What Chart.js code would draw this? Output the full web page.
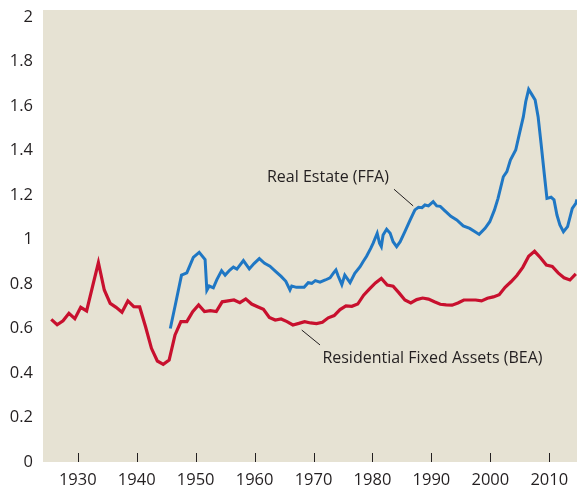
<!DOCTYPE html>
<html>
<head>
<meta charset="utf-8">
<script src="https://cdn.jsdelivr.net/npm/chart.js@4/dist/chart.umd.min.js"></script>
<style>
  html, body { margin: 0; padding: 0; background: #fff; }
  canvas { display: block; }
</style>
</head>
<body>
<canvas id="chart" width="577" height="490"></canvas>
<script>
// Residential Fixed Assets (BEA), annual
const beaYears = [
  1925, 1926, 1927, 1928, 1929, 1930, 1931, 1932, 1933, 1934,
  1935, 1936, 1937, 1938, 1939, 1940, 1941, 1942, 1943, 1944,
  1945, 1946, 1947, 1948, 1949, 1950, 1951, 1952, 1953, 1954,
  1955, 1956, 1957, 1958, 1959, 1960, 1961, 1962, 1963, 1964,
  1965, 1966, 1967, 1968, 1969, 1970, 1971, 1972, 1973, 1974,
  1975, 1976, 1977, 1978, 1979, 1980, 1981, 1982, 1983, 1984,
  1985, 1986, 1987, 1988, 1989, 1990, 1991, 1992, 1993, 1994,
  1995, 1996, 1997, 1998, 1999, 2000, 2001, 2002, 2003, 2004,
  2005, 2006, 2007, 2008, 2009, 2010, 2011, 2012, 2013, 2014
];
const beaValues = [
  0.641, 0.617, 0.635, 0.668, 0.644, 0.695, 0.679, 0.788, 0.896, 0.773,
  0.713, 0.695, 0.673, 0.724, 0.698, 0.697, 0.608, 0.511, 0.454, 0.439,
  0.458, 0.571, 0.631, 0.631, 0.676, 0.706, 0.676, 0.680, 0.676, 0.720,
  0.724, 0.728, 0.716, 0.733, 0.710, 0.698, 0.686, 0.650, 0.638, 0.643,
  0.631, 0.616, 0.623, 0.631, 0.625, 0.622, 0.628, 0.648, 0.658, 0.685,
  0.702, 0.700, 0.710, 0.750, 0.778, 0.805, 0.825, 0.795, 0.790, 0.760,
  0.728, 0.715, 0.730, 0.737, 0.732, 0.720, 0.709, 0.706, 0.705, 0.715,
  0.728, 0.728, 0.728, 0.724, 0.736, 0.742, 0.752, 0.785, 0.810, 0.838,
  0.875, 0.925, 0.947, 0.918, 0.885, 0.879, 0.850, 0.828, 0.818, 0.845
];

// Real Estate (FFA)
const ffaDates = [
  1945.7, 1946.5, 1947.6, 1948.5, 1949.6, 1950.6, 1951.6, 1951.9, 1952.3, 1953.0,
  1953.6, 1954.4, 1955.0, 1955.8, 1956.4, 1957.0, 1958.1, 1959.1, 1959.9, 1960.8,
  1961.7, 1962.6, 1963.6, 1964.5, 1965.3, 1966.0, 1966.3, 1967.1, 1968.4, 1969.1,
  1969.7, 1970.3, 1971.1, 1972.0, 1972.8, 1973.4, 1973.8, 1974.2, 1974.8, 1975.3,
  1976.2, 1977.0, 1977.9, 1978.4, 1979.0, 1979.7, 1980.1, 1980.8, 1981.2, 1981.5,
  1981.8, 1982.4, 1983.0, 1983.5, 1984.1, 1984.7, 1985.5, 1986.4, 1987.2, 1987.8,
  1988.4, 1988.9, 1989.5, 1990.3, 1990.9, 1991.5, 1992.3, 1993.3, 1994.3, 1995.4,
  1996.5, 1997.4, 1998.1, 1999.1, 1999.9, 2000.7, 2001.3, 2002.2, 2002.8, 2003.4,
  2004.3, 2005.0, 2005.6, 2006.0, 2006.5, 2007.1, 2007.6, 2008.1, 2008.6, 2009.2,
  2009.6, 2010.3, 2010.8, 2011.3, 2011.8, 2012.4, 2013.1, 2013.9, 2014.5, 2014.7
];
const ffaValues = [
  0.600, 0.700, 0.840, 0.850, 0.920, 0.942, 0.910, 0.772, 0.791, 0.783,
  0.820, 0.860, 0.840, 0.863, 0.876, 0.867, 0.905, 0.868, 0.892, 0.914,
  0.893, 0.880, 0.856, 0.834, 0.812, 0.773, 0.791, 0.785, 0.785, 0.806,
  0.803, 0.815, 0.808, 0.818, 0.828, 0.850, 0.863, 0.835, 0.797, 0.840,
  0.806, 0.848, 0.878, 0.900, 0.925, 0.960, 0.983, 1.028, 0.983, 0.968,
  1.020, 1.046, 1.028, 0.990, 0.968, 0.990, 1.035, 1.088, 1.133, 1.145,
  1.143, 1.155, 1.151, 1.170, 1.151, 1.149, 1.129, 1.104, 1.088, 1.061,
  1.050, 1.035, 1.023, 1.050, 1.080, 1.133, 1.185, 1.282, 1.305, 1.357,
  1.402, 1.484, 1.552, 1.619, 1.675, 1.649, 1.627, 1.552, 1.432, 1.282,
  1.185, 1.190, 1.178, 1.110, 1.065, 1.035, 1.058, 1.140, 1.163, 1.180
];

const xTicks = [1930, 1940, 1950, 1960, 1970, 1980, 1990, 2000, 2010];
const yTicks = [0, 0.2, 0.4, 0.6, 0.8, 1, 1.2, 1.4, 1.6, 1.8, 2];

// label text, anchor (year, value), leader line from/to (year, value)
const notes = [
  { text: 'Real Estate (FFA)', at: [1962.1, 1.281], from: [1983.65, 1.226], to: [1986.9, 1.151] },
  { text: 'Residential Fixed Assets (BEA)', at: [1971.5, 0.466], from: [1971.1, 0.526], to: [1968.0, 0.593] }
];

const INK = '#231f20';
const FONT = '"Open Sans", sans-serif';

const panel = {
  id: 'panel',
  beforeDraw(chart) {
    const a = chart.chartArea;
    const ctx = chart.ctx;
    ctx.save();
    ctx.fillStyle = '#e6e2d3';
    ctx.fillRect(a.left, a.top, a.right - a.left, a.bottom - a.top);
    ctx.restore();
  }
};

const innerTicks = {
  id: 'innerTicks',
  afterDatasetsDraw(chart) {
    const x = chart.scales.x;
    const bottom = chart.chartArea.bottom;
    const ctx = chart.ctx;
    ctx.save();
    ctx.strokeStyle = INK;
    ctx.lineWidth = 1;
    xTicks.forEach(t => {
      const px = Math.round(x.getPixelForValue(t)) + 0.5;
      ctx.beginPath();
      ctx.moveTo(px, bottom);
      ctx.lineTo(px, bottom - 9);
      ctx.stroke();
    });
    ctx.restore();
  }
};

const labels = {
  id: 'labels',
  afterDatasetsDraw(chart) {
    const { x, y } = chart.scales;
    const ctx = chart.ctx;
    ctx.save();
    ctx.fillStyle = INK;
    ctx.strokeStyle = INK;
    ctx.lineWidth = 1;
    ctx.font = '16px ' + FONT;
    ctx.textBaseline = 'middle';
    ctx.textAlign = 'left';
    notes.forEach(n => {
      ctx.fillText(n.text, x.getPixelForValue(n.at[0]), y.getPixelForValue(n.at[1]));
      ctx.beginPath();
      ctx.moveTo(x.getPixelForValue(n.from[0]), y.getPixelForValue(n.from[1]));
      ctx.lineTo(x.getPixelForValue(n.to[0]), y.getPixelForValue(n.to[1]));
      ctx.stroke();
    });
    ctx.restore();
  }
};

new Chart(document.getElementById('chart'), {
  type: 'line',
  data: {
    datasets: [
      {
        label: 'Residential Fixed Assets (BEA)',
        // annual values sit at mid-year
        data: beaYears.map((yr, i) => ({ x: yr + 0.5, y: beaValues[i] })),
        borderColor: '#c8102e',
        borderWidth: 3.2,
        pointRadius: 0,
        tension: 0,
        fill: false
      },
      {
        label: 'Real Estate (FFA)',
        data: ffaDates.map((d, i) => ({ x: d, y: ffaValues[i] })),
        borderColor: '#1f77c4',
        borderWidth: 3,
        pointRadius: 0,
        tension: 0,
        fill: false
      }
    ]
  },
  options: {
    responsive: false,
    animation: false,
    devicePixelRatio: 1,
    layout: { padding: { top: 10, right: 0, bottom: 0, left: 0 } },
    plugins: {
      legend: { display: false },
      tooltip: { enabled: false }
    },
    scales: {
      x: {
        type: 'linear',
        min: 1924.1,
        max: 2014.7,
        afterBuildTicks: s => { s.ticks = xTicks.map(v => ({ value: v })); },
        afterFit: s => { s.height = 28; s.paddingLeft = 0; s.paddingRight = 0; },
        grid: { display: false, drawTicks: false },
        border: { display: false },
        ticks: {
          padding: 8,
          color: INK,
          font: { family: FONT, size: 16.5 },
          maxRotation: 0,
          callback: v => String(v)
        }
      },
      y: {
        min: 0,
        max: 2.0315,
        afterBuildTicks: s => { s.ticks = yTicks.map(v => ({ value: v })); },
        afterFit: s => { s.width = 43; s.paddingTop = 0; s.paddingBottom = 0; },
        grid: { display: false, drawTicks: false },
        border: { display: false },
        ticks: {
          padding: 10,
          color: INK,
          font: { family: FONT, size: 16.5 },
          callback: v => String(Number(v.toFixed(1)))
        }
      }
    }
  },
  plugins: [panel, innerTicks, labels]
});
</script>
</body>
</html>
